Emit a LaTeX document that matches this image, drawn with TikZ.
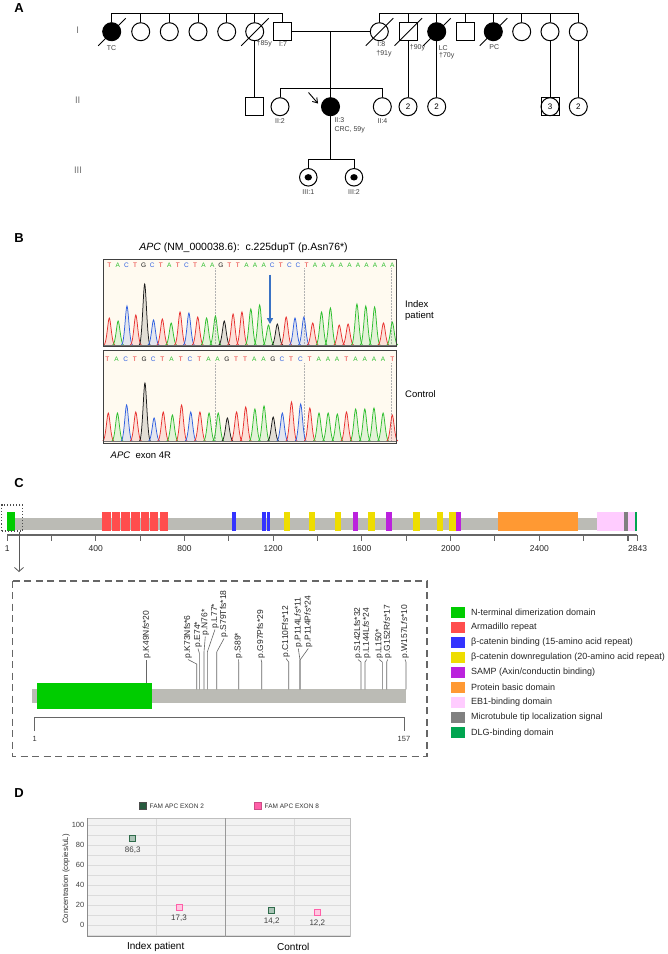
\documentclass[tikz,border=0pt]{standalone}
\usepackage{fontspec}
\setmainfont{Liberation Sans}
\usetikzlibrary{arrows.meta,calc}
\definecolor{nterm}{HTML}{00CC00}
\definecolor{arm}{HTML}{FF4D4D}
\definecolor{bcb}{HTML}{3333FF}
\definecolor{bcd}{HTML}{EEDD00}
\definecolor{samp}{HTML}{BB22DD}
\definecolor{basic}{HTML}{FF9933}
\definecolor{eb1}{HTML}{FFCCFF}
\definecolor{mtt}{HTML}{808080}
\definecolor{dlg}{HTML}{00A550}
\definecolor{protgray}{HTML}{BBBBB5}
\definecolor{chT}{HTML}{E8312F}
\definecolor{chA}{HTML}{2DBE2D}
\definecolor{chC}{HTML}{2F5FE0}
\definecolor{chG}{HTML}{1A1A1A}
\definecolor{cream}{HTML}{FFFAF0}
\definecolor{arrblue}{HTML}{3A72C4}
\definecolor{exontwo}{HTML}{2E6B4A}
\definecolor{exoneight}{HTML}{FF5FA8}
\newcommand{\myfs}[1]{\fontsize{#1}{#1}\selectfont}
\newcommand{\deadmark}[1]{\draw[pl] ($(#1.center)+(-13.5,14)$) -- ($(#1.center)+(14,-13.5)$);}
\begin{document}
\begin{tikzpicture}[x=1pt,y=-1pt,
  fem/.style={circle,draw,line width=1pt,minimum size=18pt,inner sep=0pt,font=\myfs{8}},
  mal/.style={rectangle,draw,line width=1pt,minimum size=18pt,inner sep=0pt},
  aff/.style={fill=black},
  pl/.style={line width=0.9pt},
  plab/.style={font=\myfs{7},text=black!75,inner sep=0pt},
  genlab/.style={font=\myfs{9.5},text=black!55,inner sep=0pt},
  panlab/.style={font=\bfseries\myfs{13},inner sep=0pt},
  seqlet/.style={font=\myfs{6.5},inner sep=0pt},
  sidelab/.style={font=\myfs{9.5},anchor=west,inner sep=0pt},
  mutlab/.style={font=\myfs{8.5},rotate=90,anchor=west,inner sep=0.5pt,text=black!85},
  leglab/.style={font=\myfs{9},anchor=west,inner sep=0pt,text=black!85},
  ticklab/.style={font=\myfs{8.5},inner sep=0pt,text=black!85},
  ddot/.style={draw,line width=1pt,minimum size=6pt,inner sep=0pt},
  vallab/.style={font=\myfs{8},inner sep=0pt,text=black!75}]
\path[use as bounding box,fill=white] (0,0) rectangle (668,954);

% ================= Panel A =================
\node[panlab] (labA) at (19,8) {A};
\node[genlab] (g1) at (77.7,30.7) {I};
\node[genlab] (g2) at (77.7,100.7) {II};
\node[genlab] (g3) at (78,170) {III};

\node[fem,aff] (tc) at (111.7,31.7) {};
\node[fem] (a2) at (140.7,31.7) {};
\node[fem] (a3) at (169.3,31.7) {};
\node[fem] (a4) at (198,31.7) {};
\node[fem] (a5) at (226.7,31.7) {};
\node[fem] (a6) at (254.7,31.7) {};
\node[mal] (i7) at (282.3,31.7) {};
\node[fem] (i8) at (379.3,31.7) {};
\node[mal] (b2) at (408,31.7) {};
\node[fem,aff] (lc) at (436.7,31.7) {};
\node[mal] (b4) at (465,31.7) {};
\node[fem,aff] (pc) at (493.3,31.7) {};
\node[fem] (b6) at (521.7,31.7) {};
\node[fem] (b7) at (550,31.7) {};
\node[fem] (b8) at (578.3,31.7) {};
\coordinate (sibL) at (0,13.3);
\draw[pl] (tc.north |- sibL) -- (i7.north |- sibL);
\foreach \n in {tc,a2,a3,a4,a5,a6,i7} \draw[pl] (\n.north) -- (\n.north |- sibL);
\draw[pl] (i8.north |- sibL) -- (b8.north |- sibL);
\foreach \n in {i8,b2,lc,b4,pc,b6,b7,b8} \draw[pl] (\n.north) -- (\n.north |- sibL);
\deadmark{tc}
\deadmark{a6}
\deadmark{i8}
\deadmark{b2}
\deadmark{lc}
\deadmark{pc}
\draw[pl] (i7.east) -- (i8.west);
\coordinate (mdesc) at (330.5,31.7);
\coordinate (sib2) at (330.5,88.3);
\draw[pl] (mdesc) -- (sib2);

\node[mal] (ii1) at (254.7,106.7) {};
\node[fem] (ii2) at (280,106.7) {};
\node[fem,aff] (ii3) at (330.5,106.7) {};
\node[fem] (ii4) at (382.3,106.7) {};
\node[fem] (n2a) at (408,106.7) {2};
\node[fem] (n2b) at (436.7,106.7) {2};
\node[mal] (n3s) at (550,106.7) {};
\node[fem] (n3) at (550,106.7) {3};
\node[fem] (n2c) at (578.3,106.7) {2};
\draw[pl] (a6.south) -- (ii1.north);
\draw[pl] (ii2.north |- sib2) -- (ii4.north |- sib2);
\draw[pl] (ii2.north) -- (ii2.north |- sib2);
\draw[pl] (ii4.north) -- (ii4.north |- sib2);
\draw[pl] (sib2) -- (ii3.north);
\draw[pl] (b2.south) -- (n2a.north);
\draw[pl] (lc.south) -- (n2b.north);
\draw[pl] (b7.south) -- (n3s.north);
\draw[pl] (b8.south) -- (n2c.north);
\coordinate (arr0) at (308.5,92.5);
\coordinate (arr1) at (318,103.5);
\draw[pl,-{Straight Barb[length=4.5pt,width=6pt]}] (arr0) -- (arr1);

\coordinate (sib3) at (330.5,159.3);
\node[fem,minimum size=17.5pt] (iii1) at (308.3,177.3) {};
\node[fem,minimum size=17.5pt] (iii2) at (354,177.3) {};
\fill (iii1.center) ellipse [x radius=3.7pt, y radius=3.2pt];
\fill (iii2.center) ellipse [x radius=3.7pt, y radius=3.2pt];
\draw[pl] (ii3.south) -- (sib3);
\draw[pl] (iii1.north |- sib3) -- (iii2.north |- sib3);
\draw[pl] (iii1.north) -- (iii1.north |- sib3);
\draw[pl] (iii2.north) -- (iii2.north |- sib3);

\node[plab] (ltc) at (111.5,47.7) {TC};
\node[plab] (l85) at (264.2,44) {†85y};
\node[plab] (li7) at (283,44) {I:7};
\node[plab] (li8) at (381.3,44.3) {I:8};
\node[plab] (l91) at (384,53.3) {†91y};
\node[plab] (l90) at (417.5,48) {†90y};
\node[plab] (llc) at (443.3,48) {LC};
\node[plab] (l70) at (446.7,55.3) {†70y};
\node[plab] (lpc) at (494.3,47.3) {PC};
\node[plab] (lii2) at (280,121) {II:2};
\node[plab,anchor=west] (lii3) at (334.3,120) {II:3};
\node[plab,anchor=west] (lcrc) at (334.3,129.3) {CRC, 59y};
\node[plab] (lii4) at (382.5,121) {II:4};
\node[plab] (liii1) at (308.3,191.7) {III:1};
\node[plab] (liii2) at (354,191.7) {III:2};

% ================= Panel B =================
\node[panlab] (labB) at (19,238) {B};
\node[font=\myfs{10.5},inner sep=0pt] (btitle) at (243.5,247.7) {\textit{APC} (NM\_000038.6):\ \ c.225dupT (p.Asn76*)};
\fill[cream] (103.3,259) rectangle (396.7,346.7);
\fill[cream] (103.3,350.7) rectangle (396.7,443);
\foreach \gx in {215,304,391.7} {
  \draw[black!30,densely dotted,line width=0.5pt] (\gx,268) -- (\gx,346);
  \draw[black!30,densely dotted,line width=0.5pt] (\gx,363) -- (\gx,442);
}
\foreach \ll [count=\i from 0] in {T,A,C,T,G,C,T,A,T,C,T,A,A,G,T,T,A,A,A,C,T,C,C,T,A,A,A,A,A,A,A,A,A,A}
  \node[seqlet,text=ch\ll] (sa\i) at ({109.3+\i*8.576},265) {\ll};
\foreach \ll [count=\i from 0] in {T,A,C,T,G,C,T,A,T,C,T,A,A,G,T,T,A,A,G,C,T,C,T,A,A,A,T,A,A,A,A,T}
  \node[seqlet,text=ch\ll] (sb\i) at ({107.3+\i*9.194},359.3) {\ll};
\foreach \cc/\hh [count=\i from 0] in {chT/27,chA/24,chC/39,chT/30,chG/61,chC/25,chT/26,chA/22,chT/33,chC/32,chT/28,chA/27,chA/29,chG/24,chT/31,chT/33,chA/36,chA/40,chA/20,chG/21,chT/28,chC/27,chC/28,chT/22,chA/33,chA/37,chT/20,chT/21,chA/41,chA/39,chA/38,chT/22,chA/23} {
  \pgfmathsetmacro\px{109.3+\i*8.844}
  \filldraw[draw=\cc,fill=\cc!70,fill opacity=0.18,line width=0.75pt] ({\px-5.5},345) .. controls ({\px-2.6},345) and ({\px-1.3},{345-\hh}) .. (\px,{345-\hh}) .. controls ({\px+1.3},{345-\hh}) and ({\px+2.6},345) .. ({\px+5.5},345);
}
\foreach \cc/\hh [count=\i from 0] in {chT/28,chA/28,chC/36,chT/29,chG/58,chC/23,chT/29,chA/26,chT/36,chC/29,chT/29,chA/28,chA/28,chG/23,chT/29,chT/34,chA/32,chA/35,chG/24,chC/28,chT/39,chC/37,chT/33,chA/28,chA/28,chA/27,chT/29,chA/32,chA/32,chA/33,chA/28,chT/26} {
  \pgfmathsetmacro\px{108.3+\i*9.161}
  \filldraw[draw=\cc,fill=\cc!70,fill opacity=0.18,line width=0.75pt] ({\px-5.5},441) .. controls ({\px-2.6},441) and ({\px-1.3},{441-\hh}) .. (\px,{441-\hh}) .. controls ({\px+1.3},{441-\hh}) and ({\px+2.6},441) .. ({\px+5.5},441);
}
\draw[black!55,line width=0.5pt] (104,345.3) -- (396,345.3);
\draw[black!55,line width=0.5pt] (104,441.3) -- (396,441.3);
\draw[black!75,line width=0.9pt] (103.3,259) rectangle (396.7,346.7);
\draw[black!75,line width=0.9pt] (103.3,350.7) rectangle (396.7,443);
\coordinate (barr0) at (270,274.5);
\coordinate (barr1) at (270,324);
\draw[arrblue,line width=1.7pt,-{Triangle[length=6pt,width=6pt]}] (barr0) -- (barr1);
\node[sidelab] (lidx) at (405,304) {Index};
\node[sidelab] (lpat) at (405,315.7) {patient};
\node[sidelab] (lctl) at (405,394.3) {Control};
\node[sidelab] (lexon) at (110.5,455) {\textit{APC}\ \ exon 4R};

% ================= Panel C =================
\node[panlab] (labC) at (19,483) {C};
\fill[protgray] (7.3,517.5) rectangle (596.7,530);
\fill[nterm] (7.3,511.5) rectangle (15,531);
\foreach \xa/\xb in {101.7/110.7,111.7/120.3,121.3/130,131/140,140.7/149.3,150.3/158.3,159.7/167.7}
  \fill[arm] (\xa,511.5) rectangle (\xb,531);
\foreach \xa/\xb in {231.7/235.7,261.7/265.7,266.7/270}
  \fill[bcb] (\xa,511.5) rectangle (\xb,531);
\foreach \xa/\xb in {284/290,309.3/315,334.7/340.7,368/374.7,413.3/420,437/443.3,449.3/456}
  \fill[bcd] (\xa,511.5) rectangle (\xb,531);
\foreach \xa/\xb in {352.7/358,386/391.7,456/461}
  \fill[samp] (\xa,511.5) rectangle (\xb,531);
\fill[basic] (497.7,511.5) rectangle (577.7,531);
\fill[eb1] (596.7,511.5) rectangle (635.3,531);
\fill[mtt] (624.3,511.5) rectangle (627.7,531);
\fill[dlg] (635.3,511.5) rectangle (636.8,531);
\draw[black!60,line width=1.1pt] (7.3,535) -- (637.3,535);
\foreach \t in {1,200,400,...,2800,2843}
  \draw[black!60,line width=1.1pt] ({7.3+(\t-1)*0.22175},535) -- ({7.3+(\t-1)*0.22175},541);
\foreach \t/\tx in {1/1,400/400,800/800,1200/1200,1600/1600,2000/2000,2400/2400,2843/2843}
  \node[ticklab] (tk\t) at ({7.3+(\t-1)*0.22175},548.5) {\tx};
\node[draw=black!70,dotted,line width=1.1pt,minimum width=21.2pt,minimum height=26pt,inner sep=0pt] (zoombox) at (12.1,518) {};
\coordinate (zarr) at (19,572);
\draw[black!65,line width=0.8pt,-{Straight Barb[length=4pt,width=9pt]}] (zoombox.south -| zarr) -- (zarr);

\draw[black!60,line width=1.6pt,dash pattern=on 7pt off 4.5pt] (12.3,580.7) rectangle (426.7,756.5);
\fill[protgray] (31.7,689.3) rectangle (406,703.3);
\fill[nterm] (37.3,682.7) rectangle (152,709.3);
\draw[black!60,line width=1.6pt] (34.3,731) -- (34.3,717.3) -- (404.3,717.3) -- (404.3,731);
\node[font=\myfs{7.5},inner sep=0pt,text=black!80] (d1) at (34.7,738.5) {1};
\node[font=\myfs{7.5},inner sep=0pt,text=black!80] (d157) at (404,738.5) {157};
\foreach \xl/\ys/\yb/\xt/\yt/\lab [count=\k] in {
  146.7/682.7/662/146.7/659/{p.K49N\textit{fs}*20},
  196.7/689.3/664/188/659/{p.K73Nfs*6},
  199.3/689.3/653/198/648/{p.E74*},
  204/689.3/652/205.3/636/{p.N76*},
  207.3/689.3/652/215/629/{p.L77*},
  216.7/689.3/652/224/638/{p.S79Tfs*18},
  238.7/689.3/662/238.5/659/{p.S89*},
  261.7/689.3/662/261/659/{p.G97Pfs*29},
  288.7/689.3/662/286/658/{p.C110Ffs*12},
  300/689.3/660/298.3/648/{p.P114L\textit{fs}*11},
  300/689.3/660/308.3/648/{p.P114P\textit{fs}*24},
  361/689.3/662/358/659/{p.S142Lfs*32},
  365/689.3/662/366.7/659/{p.L144L\textit{fs}*24},
  382.3/689.3/662/379.3/659/{p.L150*},
  386.7/689.3/662/387.7/659/{p.G152R\textit{fs}*17},
  406/689.3/662/405/659/{p.W157L\textit{fs}*10}} {
  \draw[black!60,line width=0.6pt] (\xl,\ys) -- (\xl,\yb) -- (\xt,{\yt+0.5});
  \node[mutlab] (mut\k) at (\xt,\yt) {\lab};
}
\foreach \cc/\tt [count=\k from 0] in {nterm/{N-terminal dimerization domain},arm/{Armadillo repeat},bcb/{β-catenin binding (15-amino acid repeat)},bcd/{β-catenin downregulation (20-amino acid repeat)},samp/{SAMP (Axin/conductin binding)},basic/{Protein basic domain},eb1/{EB1-binding domain},mtt/{Microtubule tip localization signal},dlg/{DLG-binding domain}} {
  \fill[\cc] (450.7,{612.3+\k*15.05-5.5}) rectangle (465,{612.3+\k*15.05+5.5});
  \node[leglab] (leg\k) at (471,{612.3+\k*15.05}) {\tt};
}

% ================= Panel D =================
\node[panlab] (labD) at (19,793) {D};
\node[draw=black!70,fill=exontwo!85!black,minimum size=7pt,inner sep=0pt] (lg2) at (143,806) {};
\node[font=\myfs{6.5},anchor=west,inner sep=0pt,text=black!80] (lg2t) at (149.5,806) {FAM APC EXON 2};
\node[draw=exoneight!80!black,fill=exoneight,minimum size=7pt,inner sep=0pt] (lg8) at (258,806) {};
\node[font=\myfs{6.5},anchor=west,inner sep=0pt,text=black!80] (lg8t) at (264.5,806) {FAM APC EXON 8};
\fill[black!5] (87.3,818) rectangle (350,936.7);
\foreach \v in {-10,0,...,100}
  \draw[black!14,line width=0.5pt] (87.3,{925-\v}) -- (350,{925-\v});
\draw[black!14,line width=0.5pt] (156.7,818) -- (156.7,936.7);
\draw[black!14,line width=0.5pt] (294,818) -- (294,936.7);
\draw[black!25,line width=0.6pt] (87.3,818) rectangle (350,936.7);
\draw[black!45,line width=1pt] (87.3,818) -- (87.3,936.7) -- (350,936.7);
\draw[black!40,line width=1.3pt] (225.3,818) -- (225.3,936.7);
\foreach \v in {0,20,...,100}
  \node[font=\myfs{7.5},anchor=east,inner sep=0pt,text=black!75] (yt\v) at (84.5,{925-\v}) {\v};
\node[font=\myfs{7.8},rotate=90,inner sep=0pt,text=black!80] (ytitle) at (66,879) {Concentration (copies/uL)};
\node[ddot,draw=exontwo,fill=exontwo!40] (p1) at (132.7,838.7) {};
\node[ddot,draw=exoneight,fill=exoneight!35] (p2) at (179,907.7) {};
\node[ddot,draw=exontwo,fill=exontwo!40] (p3) at (271.7,910.8) {};
\node[ddot,draw=exoneight,fill=exoneight!35] (p4) at (317.3,912.8) {};
\node[vallab] (v1) at (132.7,850.7) {86,3};
\node[vallab] (v2) at (179,918.5) {17,3};
\node[vallab] (v3) at (271.7,921.3) {14,2};
\node[vallab] (v4) at (317.3,923) {12,2};
\node[font=\myfs{10},inner sep=0pt] (xidx) at (155.7,946.7) {Index patient};
\node[font=\myfs{10},inner sep=0pt] (xctl) at (293.3,946.7) {Control};
\end{tikzpicture}
\end{document}
